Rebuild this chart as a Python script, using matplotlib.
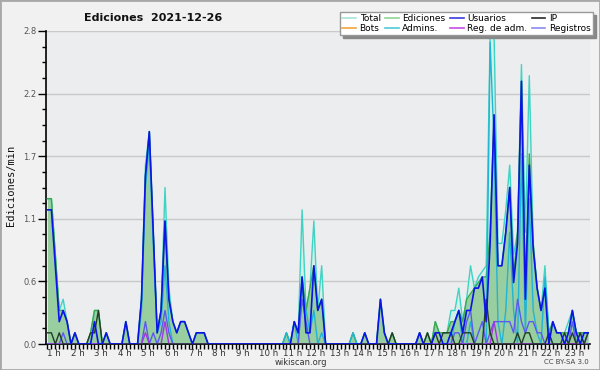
import numpy as np
import matplotlib.pyplot as plt
from matplotlib.lines import Line2D
from matplotlib.patches import Rectangle
from matplotlib.ticker import FixedLocator, MultipleLocator, FormatStrFormatter

# Ediciones por minuto, tramos de 10 min desde 1 h hasta 24 h (una fila = una hora)
total = [
    1.3, 1.3, 0.8, 0.3, 0.4, 0.2,
    0, 0.1, 0, 0, 0, 0.1,
    0.3, 0.3, 0, 0.1, 0, 0,
    0, 0, 0.2, 0, 0, 0,
    0.4, 1.6, 1.9, 1.0, 0.1, 0.3,
    1.4, 0.5, 0.2, 0.1, 0.2, 0.2,
    0.1, 0, 0.1, 0.1, 0.1, 0,
    0, 0, 0, 0, 0, 0,
    0, 0, 0, 0, 0, 0,
    0, 0, 0, 0, 0, 0,
    0, 0.1, 0, 0.2, 0.1, 1.2,
    0.3, 0.5, 1.1, 0.3, 0.7, 0,
    0, 0, 0, 0, 0, 0,
    0.1, 0, 0, 0.1, 0, 0,
    0, 0.4, 0.1, 0, 0.1, 0,
    0, 0, 0, 0, 0, 0.1,
    0, 0.1, 0, 0.2, 0.1, 0.1,
    0.1, 0.3, 0.3, 0.5, 0.2, 0.4,
    0.7, 0.5, 0.6, 0.65, 0.7, 2.75,
    2.8, 0.9, 0.9, 1.2, 1.6, 0.8,
    1.0, 2.5, 1.0, 2.4, 0.9, 0.5,
    0.3, 0.7, 0.1, 0.2, 0.1, 0.1,
    0.1, 0.2, 0.3, 0.1, 0.1, 0.1,
    0.1,
]
ediciones = [
    1.3, 1.3, 0.8, 0.3, 0.3, 0.2,
    0, 0.1, 0, 0, 0, 0.1,
    0.3, 0.3, 0, 0.1, 0, 0,
    0, 0, 0.2, 0, 0, 0,
    0.4, 1.5, 1.9, 1.0, 0.1, 0.3,
    1.1, 0.4, 0.2, 0.1, 0.2, 0.2,
    0.1, 0, 0.1, 0.1, 0.1, 0,
    0, 0, 0, 0, 0, 0,
    0, 0, 0, 0, 0, 0,
    0, 0, 0, 0, 0, 0,
    0, 0.1, 0, 0.2, 0.1, 0.6,
    0.3, 0.5, 0.7, 0.3, 0.4, 0,
    0, 0, 0, 0, 0, 0,
    0.1, 0, 0, 0.1, 0, 0,
    0, 0.4, 0.1, 0, 0.1, 0,
    0, 0, 0, 0, 0, 0.1,
    0, 0.1, 0, 0.2, 0.1, 0.1,
    0.1, 0.2, 0.2, 0.3, 0.2, 0.4,
    0.45, 0.5, 0.55, 0.6, 0.6, 1.0,
    2.05, 0.7, 0.7, 1.0, 1.4, 0.6,
    1.0, 2.35, 0.5, 1.7, 0.9, 0.5,
    0.3, 0.5, 0.1, 0.2, 0.1, 0.1,
    0.1, 0.1, 0.3, 0.1, 0.1, 0.1,
    0.1,
]
usuarios = [
    1.2, 1.2, 0.7, 0.2, 0.3, 0.2,
    0, 0.1, 0, 0, 0, 0,
    0.2, 0, 0, 0.1, 0, 0,
    0, 0, 0.2, 0, 0, 0,
    0.4, 1.5, 1.9, 1.0, 0.1, 0.3,
    1.1, 0.4, 0.2, 0.1, 0.2, 0.2,
    0.1, 0, 0.1, 0.1, 0.1, 0,
    0, 0, 0, 0, 0, 0,
    0, 0, 0, 0, 0, 0,
    0, 0, 0, 0, 0, 0,
    0, 0, 0, 0.2, 0.1, 0.6,
    0.1, 0.1, 0.7, 0.3, 0.4, 0,
    0, 0, 0, 0, 0, 0,
    0, 0, 0, 0.1, 0, 0,
    0, 0.4, 0.1, 0, 0, 0,
    0, 0, 0, 0, 0, 0.1,
    0, 0, 0, 0.1, 0.1, 0,
    0, 0.1, 0.2, 0.3, 0.1, 0.3,
    0.3, 0.5, 0.5, 0.6, 0.2, 0.9,
    2.05, 0.7, 0.7, 1.0, 1.4, 0.55,
    0.9, 2.35, 0.4, 1.6, 0.85, 0.5,
    0.3, 0.5, 0, 0.2, 0.1, 0.1,
    0, 0.1, 0.3, 0.1, 0, 0.1,
    0.1,
]
ip = [
    0.1, 0.1, 0, 0.1, 0, 0,
    0, 0, 0, 0, 0, 0.1,
    0.1, 0.3, 0, 0, 0, 0,
    0, 0, 0, 0, 0, 0,
    0, 0, 0, 0, 0, 0,
    0, 0, 0, 0, 0, 0,
    0, 0, 0, 0, 0, 0,
    0, 0, 0, 0, 0, 0,
    0, 0, 0, 0, 0, 0,
    0, 0, 0, 0, 0, 0,
    0, 0, 0, 0, 0, 0,
    0, 0, 0, 0, 0, 0,
    0, 0, 0, 0, 0, 0,
    0, 0, 0, 0, 0, 0,
    0, 0, 0, 0, 0.1, 0,
    0, 0, 0, 0, 0, 0,
    0, 0.1, 0, 0.1, 0, 0.1,
    0.1, 0.1, 0, 0, 0.1, 0.1,
    0.1, 0, 0, 0, 0.4, 0.1,
    0, 0, 0, 0, 0, 0,
    0.1, 0, 0.1, 0.1, 0, 0,
    0, 0, 0.1, 0, 0, 0,
    0.1, 0, 0.1, 0, 0.1, 0,
    0.1,
]
admins = [
    0, 0, 0, 0, 0, 0,
    0, 0, 0, 0, 0, 0,
    0, 0, 0, 0, 0, 0,
    0, 0, 0, 0, 0, 0,
    0.3, 1.4, 1.8, 0.9, 0.1, 0.2,
    0.7, 0.2, 0, 0, 0, 0,
    0, 0, 0, 0, 0, 0,
    0, 0, 0, 0, 0, 0,
    0, 0, 0, 0, 0, 0,
    0, 0, 0, 0, 0, 0,
    0, 0.1, 0, 0.2, 0, 0.5,
    0.3, 0.1, 0.3, 0, 0.1, 0,
    0, 0, 0, 0, 0, 0,
    0.1, 0, 0, 0, 0, 0,
    0, 0, 0, 0, 0, 0,
    0, 0, 0, 0, 0, 0,
    0, 0, 0, 0, 0, 0,
    0, 0, 0.2, 0.3, 0, 0,
    0.2, 0, 0, 0, 0, 2.7,
    1.8, 0.2, 0, 0.3, 1.0, 0.3,
    0, 1.7, 0.1, 1.3, 0.3, 0.1,
    0, 0.6, 0.1, 0, 0, 0,
    0, 0.1, 0.3, 0, 0, 0,
    0,
]
reg_adm = [
    0, 0, 0, 0, 0, 0,
    0, 0, 0, 0, 0, 0,
    0, 0, 0, 0, 0, 0,
    0, 0, 0, 0, 0, 0,
    0, 0.1, 0, 0, 0, 0,
    0.2, 0, 0, 0, 0, 0,
    0, 0, 0, 0, 0, 0,
    0, 0, 0, 0, 0, 0,
    0, 0, 0, 0, 0, 0,
    0, 0, 0, 0, 0, 0,
    0, 0, 0, 0, 0, 0,
    0, 0, 0, 0, 0, 0,
    0, 0, 0, 0, 0, 0,
    0, 0, 0, 0, 0, 0,
    0, 0, 0, 0, 0, 0,
    0, 0, 0, 0, 0, 0,
    0, 0, 0, 0, 0, 0,
    0, 0, 0, 0, 0, 0,
    0, 0, 0, 0, 0, 0,
    0.2, 0, 0, 0, 0, 0,
    0, 0, 0, 0, 0, 0,
    0, 0, 0, 0, 0, 0,
    0, 0, 0, 0, 0, 0,
    0,
]
registros = [
    0, 0, 0, 0, 0.1, 0,
    0, 0, 0, 0, 0, 0,
    0, 0, 0, 0, 0, 0,
    0, 0, 0, 0, 0, 0,
    0, 0.2, 0, 0.1, 0, 0.1,
    0.3, 0.1, 0, 0, 0, 0,
    0, 0, 0, 0, 0, 0,
    0, 0, 0, 0, 0, 0,
    0, 0, 0, 0, 0, 0,
    0, 0, 0, 0, 0, 0,
    0, 0, 0, 0, 0, 0.4,
    0.2, 0, 0, 0, 0, 0,
    0, 0, 0, 0, 0, 0,
    0, 0, 0, 0, 0, 0,
    0, 0, 0, 0, 0, 0,
    0, 0, 0, 0, 0, 0.1,
    0, 0, 0, 0, 0, 0,
    0, 0, 0.1, 0.1, 0, 0.2,
    0.3, 0, 0.1, 0.2, 0, 0.1,
    0.2, 0.2, 0.2, 0.2, 0.2, 0.1,
    0.4, 0.2, 0.1, 0.2, 0.2, 0.1,
    0.1, 0, 0, 0, 0, 0,
    0, 0, 0.2, 0, 0.1, 0,
    0.1,
]
hours = list(range(1, 24))
hour_labels = [f"{h} h" for h in hours]
y_ticks = [0, 0.56, 1.12, 1.68, 2.24, 2.8]

legend_names = ["Total", "Bots", "Ediciones", "Admins.", "Usuarios", "Reg. de adm.", "IP", "Registros"]
legend_colors = ["#a6e3da", "#f4a43c", "#94d494", "#4cc9d6", "#3b3be0", "#c94be8", "#2a2a2a", "#8a8af2"]

x = np.arange(len(total))

fig = plt.figure(figsize=(6, 3.7), dpi=100, facecolor="#f1f1f1")
ax = fig.add_axes([46 / 600, 1 - 344 / 370, 544 / 600, 313 / 370])
ax.set_facecolor("#ebedef")

# zonas rellenas
ax.fill_between(x, total, color="#d2efe8", lw=0, zorder=1)
ax.fill_between(x, ediciones, color="#93cb98", alpha=0.9, lw=0, zorder=2)

# lineas
ax.plot(x, total, color="#3fd3c4", lw=1.0, zorder=3)
ax.plot(x, ediciones, color="#3aa84a", lw=1.0, zorder=4)
ax.plot(x, admins, color="#22b4d4", lw=1.0, zorder=5)
ax.plot(x, registros, color="#5a5af0", lw=1.0, zorder=6)
ax.plot(x, reg_adm, color="#a535e0", lw=1.0, zorder=7)
ax.plot(x, ip, color="#243b24", lw=1.0, zorder=8)
ax.plot(x, usuarios, color="#0a14e6", lw=1.2, zorder=9)

ax.set_xlim(-0.38, 138.5)
ax.set_ylim(0, 2.8)

ax.yaxis.set_major_locator(FixedLocator(y_ticks))
ax.yaxis.set_minor_locator(MultipleLocator(0.14))
ax.yaxis.set_major_formatter(FormatStrFormatter("%.1f"))
ax.grid(axis="y", color="#c9c9c9", lw=1, zorder=0)
ax.set_axisbelow(True)

ax.xaxis.set_major_locator(FixedLocator([6 * (h - 1) for h in hours]))
ax.xaxis.set_minor_locator(MultipleLocator(1))
ax.set_xticklabels(hour_labels)
for lbl in ax.get_xticklabels():
    lbl.set_horizontalalignment("left")

ax.tick_params(axis="both", which="both", direction="out", color="black", width=1)
ax.tick_params(axis="x", which="both", length=3.5, pad=0, labelsize=6.2, labelcolor="#333333")
ax.tick_params(axis="y", which="major", length=6, pad=1, labelsize=6, labelcolor="#555555")
ax.tick_params(axis="y", which="minor", length=3)

for side in ["top", "right"]:
    ax.spines[side].set_visible(False)
for side in ["left", "bottom"]:
    ax.spines[side].set_color("black")
    ax.spines[side].set_linewidth(1.2)

fig.text(153 / 600, 1 - 18 / 370, "Ediciones  2021-12-26", ha="center", va="center",
         fontsize=8, fontweight="bold", color="#111111")
fig.text(11 / 600, 0.5, "Ediciones/min", rotation=90, ha="center", va="center",
         family="DejaVu Sans Mono", fontsize=7.5, color="#111111")
fig.text(301 / 600, 1 - 362.5 / 370, "wikiscan.org", ha="center", va="center",
         fontsize=6, color="#333333")
fig.text(589 / 600, 1 - 362.5 / 370, "CC BY-SA 3.0", ha="right", va="center",
         fontsize=5, color="#444444")

handles = [Line2D([0], [0], color=c, lw=1.2) for c in legend_colors]
fig.legend(handles, legend_names, ncol=4, loc="upper right",
           bbox_to_anchor=(593 / 600, 1 - 12 / 370), fontsize=6.5,
           frameon=True, fancybox=False, shadow={"color": "#888888", "alpha": 1},
           edgecolor="#999999", framealpha=1, handlelength=1.5, handletextpad=0.4,
           columnspacing=0.5, borderpad=0.25, labelspacing=0.05, borderaxespad=0)

fig.patches.append(Rectangle((0, 0), 1, 1, transform=fig.transFigure, fill=False,
                             edgecolor="#a8a8a8", lw=2))

fig.savefig("out.png", dpi=100, facecolor=fig.get_facecolor())
